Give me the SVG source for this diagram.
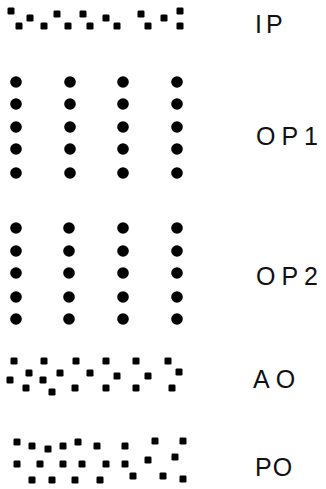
<svg xmlns="http://www.w3.org/2000/svg" xmlns:xlink="http://www.w3.org/1999/xlink" width="326" height="489" viewBox="0 0 326 489">
<style>
.bg{fill:#fff}
.dot{fill:#000}
.lbl{font-family:"Liberation Sans",Arial,sans-serif;font-size:25px;fill:#111}
</style>
<defs>
<rect id="s" x="-3.5" y="-3.5" width="7" height="7" rx="1.3" fill="#000"/>
<circle id="c" r="5.8" fill="#000"/>
</defs>
<rect class="bg" width="326" height="489"/>
<g id="IP">
<use xlink:href="#s" x="11" y="11"/><use xlink:href="#s" x="30" y="18"/><use xlink:href="#s" x="19" y="26"/>
<use xlink:href="#s" x="57" y="14"/><use xlink:href="#s" x="44" y="26"/><use xlink:href="#s" x="83" y="14"/>
<use xlink:href="#s" x="68" y="26"/><use xlink:href="#s" x="106" y="18"/><use xlink:href="#s" x="90" y="26"/>
<use xlink:href="#s" x="117" y="26"/><use xlink:href="#s" x="141" y="14"/><use xlink:href="#s" x="148" y="26"/>
<use xlink:href="#s" x="164" y="18"/><use xlink:href="#s" x="180" y="11"/><use xlink:href="#s" x="180" y="26"/>
<text class="lbl" x="255" y="33" letter-spacing="4">IP</text>
</g>
<g id="OP1">
<use xlink:href="#c" x="16" y="82"/><use xlink:href="#c" x="16" y="104"/><use xlink:href="#c" x="16" y="127"/><use xlink:href="#c" x="16" y="149"/><use xlink:href="#c" x="16" y="173"/>
<use xlink:href="#c" x="70" y="82"/><use xlink:href="#c" x="70" y="104"/><use xlink:href="#c" x="70" y="127"/><use xlink:href="#c" x="70" y="149"/><use xlink:href="#c" x="70" y="173"/>
<use xlink:href="#c" x="123" y="82"/><use xlink:href="#c" x="123" y="104"/><use xlink:href="#c" x="123" y="127"/><use xlink:href="#c" x="123" y="149"/><use xlink:href="#c" x="123" y="173"/>
<use xlink:href="#c" x="177" y="82"/><use xlink:href="#c" x="177" y="104"/><use xlink:href="#c" x="177" y="127"/><use xlink:href="#c" x="177" y="149"/><use xlink:href="#c" x="177" y="173"/>
<text class="lbl" x="256" y="145" letter-spacing="6">OP1</text>
</g>
<g id="OP2">
<use xlink:href="#c" x="16" y="228"/><use xlink:href="#c" x="16" y="251"/><use xlink:href="#c" x="16" y="273"/><use xlink:href="#c" x="16" y="297"/><use xlink:href="#c" x="16" y="319"/>
<use xlink:href="#c" x="69" y="228"/><use xlink:href="#c" x="69" y="251"/><use xlink:href="#c" x="69" y="273"/><use xlink:href="#c" x="69" y="297"/><use xlink:href="#c" x="69" y="319"/>
<use xlink:href="#c" x="123" y="228"/><use xlink:href="#c" x="123" y="251"/><use xlink:href="#c" x="123" y="273"/><use xlink:href="#c" x="123" y="297"/><use xlink:href="#c" x="123" y="319"/>
<use xlink:href="#c" x="177" y="228"/><use xlink:href="#c" x="177" y="251"/><use xlink:href="#c" x="177" y="273"/><use xlink:href="#c" x="177" y="297"/><use xlink:href="#c" x="177" y="319"/>
<text class="lbl" x="256" y="285" letter-spacing="6">OP2</text>
</g>
<g id="AO">
<use xlink:href="#s" x="14" y="361"/><use xlink:href="#s" x="44" y="361"/><use xlink:href="#s" x="76" y="361"/>
<use xlink:href="#s" x="106" y="361"/><use xlink:href="#s" x="136" y="361"/><use xlink:href="#s" x="168" y="361"/>
<use xlink:href="#s" x="29" y="373"/><use xlink:href="#s" x="60" y="373"/><use xlink:href="#s" x="90" y="373"/>
<use xlink:href="#s" x="117" y="376"/><use xlink:href="#s" x="148" y="376"/><use xlink:href="#s" x="179" y="372"/>
<use xlink:href="#s" x="10" y="380"/><use xlink:href="#s" x="43" y="380"/>
<use xlink:href="#s" x="26" y="388"/><use xlink:href="#s" x="52" y="392"/><use xlink:href="#s" x="75" y="388"/>
<use xlink:href="#s" x="106" y="388"/><use xlink:href="#s" x="136" y="388"/><use xlink:href="#s" x="172" y="388"/>
<text class="lbl" x="253" y="388" letter-spacing="6">AO</text>
</g>
<g id="PO">
<use xlink:href="#s" x="17" y="442"/><use xlink:href="#s" x="32" y="446"/><use xlink:href="#s" x="48" y="449"/>
<use xlink:href="#s" x="63" y="446"/><use xlink:href="#s" x="78" y="442"/><use xlink:href="#s" x="97" y="446"/>
<use xlink:href="#s" x="125" y="446"/><use xlink:href="#s" x="155" y="441"/><use xlink:href="#s" x="183" y="441"/>
<use xlink:href="#s" x="17" y="464"/><use xlink:href="#s" x="40" y="464"/><use xlink:href="#s" x="63" y="464"/>
<use xlink:href="#s" x="82" y="464"/><use xlink:href="#s" x="106" y="464"/><use xlink:href="#s" x="125" y="464"/>
<use xlink:href="#s" x="148" y="460"/><use xlink:href="#s" x="175" y="457"/>
<use xlink:href="#s" x="32" y="480"/><use xlink:href="#s" x="52" y="480"/><use xlink:href="#s" x="75" y="480"/>
<use xlink:href="#s" x="100" y="480"/><use xlink:href="#s" x="133" y="476"/><use xlink:href="#s" x="163" y="476"/>
<use xlink:href="#s" x="183" y="479"/>
<text class="lbl" x="255" y="476" letter-spacing="1">PO</text>
</g>
</svg>
